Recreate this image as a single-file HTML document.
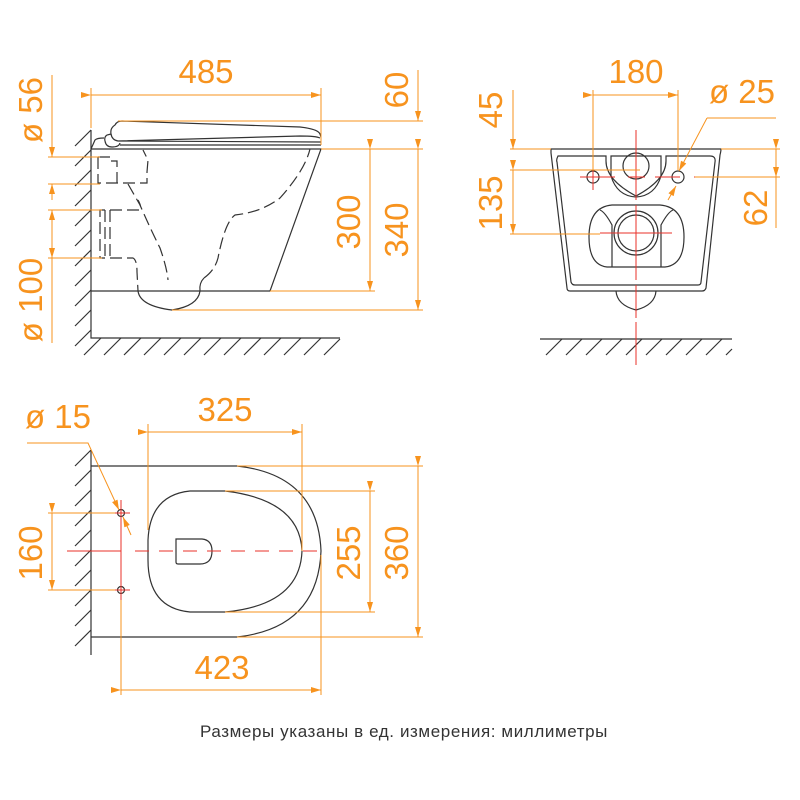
<!DOCTYPE html>
<html><head><meta charset="utf-8"><style>
html,body{margin:0;padding:0;background:#fff;}
svg{display:block;}
.o{stroke:#f7931e;stroke-width:1;fill:none;}
.k{stroke:#333;stroke-width:1.2;fill:none;}
.d{stroke:#333;stroke-width:1.2;fill:none;stroke-dasharray:12 5;}
.r{stroke:#e8312a;stroke-width:1;fill:none;}
.rd{stroke:#e8312a;stroke-width:1;fill:none;stroke-dasharray:14 10;}
.t{font-family:"Liberation Sans",sans-serif;font-size:33px;fill:#f7931e;text-anchor:middle;}
</style></head><body>
<svg width="800" height="800" viewBox="0 0 800 800" xmlns="http://www.w3.org/2000/svg">
<defs>
<marker id="a" viewBox="0 0 10 6" refX="10" refY="3" markerWidth="15" markerHeight="6" markerUnits="userSpaceOnUse" orient="auto"><path d="M0,0 L10,3 L0,6z" fill="#f7931e"/></marker>
</defs>

<!-- ========== SIDE VIEW ========== -->
<g class="k">
<path d="M91,130 V338 H340"/>
<path d="M75,146 L91,130 M75,166 L91,150 M75,186 L91,170 M75,206 L91,190 M75,226 L91,210 M75,246 L91,230 M75,266 L91,250 M75,286 L91,270 M75,306 L91,290 M75,326 L91,310 M75,346 L91,330"/>
<path d="M84,355 L101,338 M104,355 L121,338 M124,355 L141,338 M144,355 L161,338 M164,355 L181,338 M184,355 L201,338 M204,355 L221,338 M224,355 L241,338 M244,355 L261,338 M264,355 L281,338 M284,355 L301,338 M304,355 L321,338 M324,355 L340,339"/>
<path d="M91,149 H321 L270,291 H91"/>
<path d="M91,149 L95,140 Q97,138 104,138"/>
<path d="M105,141 Q104,137 107,135 L111,134 Q110,128 115,125 Q117,121 122,121 L300,127 Q318,129 320,134 L321,137"/>
<path d="M111,134 Q112,140 118,141 L300,136 Q316,136 320,138 M118,141 L321,142 M120,145 L321,145 M105,141 Q106,147 112,147 Q119,147 120,143"/>
<path d="M138,291 Q140,306 172,310 Q198,306 200,291 Q199,283 204,278"/>
</g>
<g class="d">
<path d="M98,157 H110 V161 H117 V183 H110 M98,157 V183 H147 V172 L148,160 L143,150"/>
<path d="M128,184 L140,205 Q150,228 160,248 Q167,268 168,280"/>
<path d="M105,210 H100 V258 H105 M105,210 V258 M110,210 V258 M110,210 H140 Q142,207 138,200"/>
<path d="M110,258 H133 Q137,260 137,272 L138,291"/>
<path d="M204,278 Q215,270 218,258 Q225,222 235,215 Q262,212 280,198 Q305,170 310,149"/>
</g>
<g class="o">
<path d="M91,128 V88 M321,145 V88"/>
<path d="M91,95 H321" marker-start="url(#a)" marker-end="url(#a)"/>
<path d="M118,121 H423 M321,149 H423 M270,291 H375 M172,310 H423"/>
<path d="M418,70 V121" marker-end="url(#a)"/>
<path d="M418,149 V310" marker-start="url(#a)" marker-end="url(#a)"/>
<path d="M370,149 V291" marker-start="url(#a)" marker-end="url(#a)"/>
<path d="M48,157 H100 M48,184 H100 M48,210 H102 M48,258 H102"/>
<path d="M52,75 V157" marker-end="url(#a)"/>
<path d="M52,200 V184" marker-end="url(#a)"/>
<path d="M52,234 V210" marker-end="url(#a)"/>
<path d="M52,234 V258" marker-end="url(#a)"/>
<path d="M52,258 V343"/>
</g>
<text class="t" x="206" y="83">485</text>
<text class="t" transform="translate(408,90) rotate(-90)">60</text>
<text class="t" transform="translate(360,222) rotate(-90)">300</text>
<text class="t" transform="translate(408,230) rotate(-90)">340</text>
<text class="t" transform="translate(42,110) rotate(-90)">ø 56</text>
<text class="t" transform="translate(42,300) rotate(-90)">ø 100</text>

<!-- ========== FRONT VIEW ========== -->
<g class="k">
<path d="M551,149 H721 Q721,151 720,155 L706,288 Q705,291 702,291 H570 Q567,291 567,288 L551,153 Z"/>
<path d="M558,156 Q556,160 557,162 L571,282 Q572,285 575,285 H698 Q701,285 701,282 L715,162 Q716,156 710,156 H666 V161 Q666,180 636,196 Q606,180 606,161 V156 Z"/>
<path d="M611,156 H661 V176 Q655,196 636,197 Q617,196 611,176 Z"/>
<circle cx="636" cy="166" r="13"/>
<circle cx="593" cy="177" r="6"/>
<circle cx="678" cy="177" r="6"/>
<path d="M612,205 H660 Q684,207 684,237 Q684,265 665,267 H607 Q589,265 589,237 Q589,207 612,205 Z"/>
<path d="M612,267 V225 Q605,212 600,210 M661,267 V225 Q668,212 673,210"/>
<circle cx="636" cy="233" r="22"/>
<circle cx="636" cy="233" r="18"/>
<path d="M616,291 Q617,305 636,310 Q655,305 656,291"/>
<path d="M540,339 H732"/>
<path d="M546,355 L562,339 M566,355 L582,339 M586,355 L602,339 M606,355 L622,339 M626,355 L642,339 M646,355 L662,339 M666,355 L682,339 M686,355 L702,339 M706,355 L722,339 M726,355 L732,349"/>
</g>
<g class="r">
<path d="M636,130 V200 M636,205 V280 M636,285 V318 M636,322 V365"/>
<path d="M580,177 H615 M628,177 H645 M655,177 H680 M694,177 H698 M593,165 V190"/>
<path d="M600,233 H672"/>
</g>
<g class="o">
<path d="M593,90 V170 M678,90 V170"/>
<path d="M593,95 H678" marker-start="url(#a)" marker-end="url(#a)"/>
<path d="M776,118 H707"/>
<path d="M707,118 L679,171" marker-end="url(#a)"/>
<path d="M668,200 L676,186" marker-end="url(#a)"/>
<path d="M510,149 H551 M510,170 H640 M510,234 H600 M721,149 H780 M695,177 H780"/>
<path d="M513,90 V149" marker-end="url(#a)"/>
<path d="M513,170 V234" marker-start="url(#a)" marker-end="url(#a)"/>
<path d="M776,149 V177" marker-start="url(#a)" marker-end="url(#a)"/>
<path d="M776,177 V228"/>
</g>
<text class="t" x="636" y="83">180</text>
<text class="t" x="742" y="103">ø 25</text>
<text class="t" transform="translate(502,110) rotate(-90)">45</text>
<text class="t" transform="translate(502,203) rotate(-90)">135</text>
<text class="t" transform="translate(767,208) rotate(-90)">62</text>

<!-- ========== TOP VIEW ========== -->
<g class="k">
<path d="M91,450 V655"/>
<path d="M75,466 L91,450 M75,486 L91,470 M75,506 L91,490 M75,526 L91,510 M75,546 L91,530 M75,566 L91,550 M75,586 L91,570 M75,606 L91,590 M75,626 L91,610 M75,646 L91,630"/>
<path d="M91,466 H237 Q318,475 321,551 Q318,628 237,637 H91"/>
<path d="M190,491 H225 Q300,500 302,551 Q300,605 225,612 H190 Q148,608 148,560 V540 Q150,495 190,491 Z"/>
<path d="M176,539 H202 Q212,540 212,551 Q212,564 200,564 H178 Q176,564 176,562 Z"/>
<circle cx="121" cy="513" r="3.5"/>
<circle cx="121" cy="590" r="3.5"/>
</g>
<g class="r">
<path d="M67,551 H121 M121,500 V551 M121,600 V551"/>
<path d="M135,551 H325" class="rd"/>
<path d="M111,513 H130 M111,590 H130"/>
</g>
<g class="o">
<path d="M148,424 V530 M302,424 V551"/>
<path d="M148,432 H302" marker-start="url(#a)" marker-end="url(#a)"/>
<path d="M237,466 H423 M237,637 H423 M225,491 H375 M225,612 H375"/>
<path d="M418,466 V637" marker-start="url(#a)" marker-end="url(#a)"/>
<path d="M370,491 V612" marker-start="url(#a)" marker-end="url(#a)"/>
<path d="M48,513 H115 M48,590 H115"/>
<path d="M52,513 V590" marker-start="url(#a)" marker-end="url(#a)"/>
<path d="M121,600 V695 M321,555 V695"/>
<path d="M121,690 H321" marker-start="url(#a)" marker-end="url(#a)"/>
<path d="M27,443 H88 L119,510" marker-end="url(#a)"/>
<path d="M131,535 L123,517" marker-end="url(#a)"/>
</g>
<text class="t" x="225" y="421">325</text>
<text class="t" x="222" y="679">423</text>
<text class="t" x="58" y="428">ø 15</text>
<text class="t" transform="translate(360,553) rotate(-90)">255</text>
<text class="t" transform="translate(408,553) rotate(-90)">360</text>
<text class="t" transform="translate(42,553) rotate(-90)">160</text>

<text x="404" y="737" style="font-family:'Liberation Sans',sans-serif;font-size:17px;letter-spacing:0.6px;fill:#333;text-anchor:middle;">Размеры указаны в ед. измерения: миллиметры</text>
</svg>
</body></html>
